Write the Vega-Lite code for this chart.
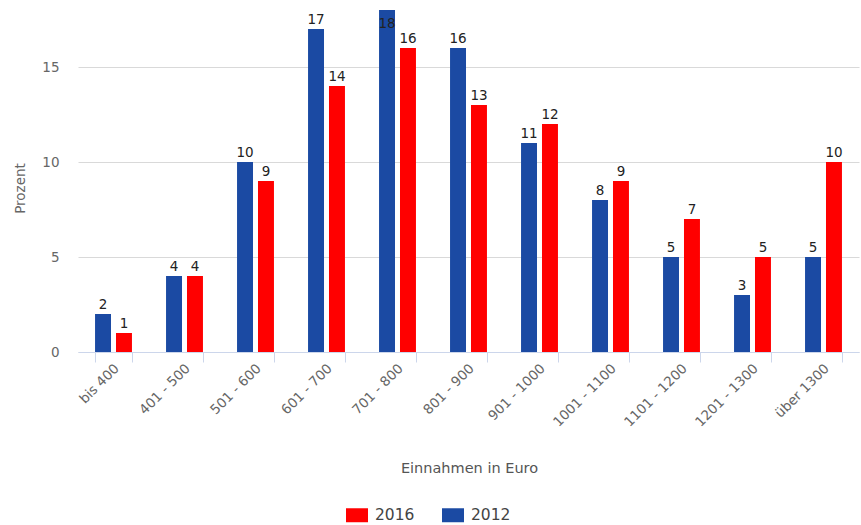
{
  "$schema": "https://vega.github.io/schema/vega-lite/v6.json",
  "width": 781,
  "height": 342,
  "autosize": {"type": "none"},
  "padding": {"left": 78, "top": 10, "right": 2, "bottom": 173},
  "background": "white",
  "config": {
    "font": "DejaVu Sans",
    "view": {"stroke": null},
    "axis": {"labelFont": "DejaVu Sans", "titleFont": "DejaVu Sans", "titleFontWeight": "normal"}
  },
  "data": {
    "values": [
      {"kat": "bis 400", "jahr": "2012", "prozent": 2},
      {"kat": "bis 400", "jahr": "2016", "prozent": 1},
      {"kat": "401 - 500", "jahr": "2012", "prozent": 4},
      {"kat": "401 - 500", "jahr": "2016", "prozent": 4},
      {"kat": "501 - 600", "jahr": "2012", "prozent": 10},
      {"kat": "501 - 600", "jahr": "2016", "prozent": 9},
      {"kat": "601 - 700", "jahr": "2012", "prozent": 17},
      {"kat": "601 - 700", "jahr": "2016", "prozent": 14},
      {"kat": "701 - 800", "jahr": "2012", "prozent": 18},
      {"kat": "701 - 800", "jahr": "2016", "prozent": 16},
      {"kat": "801 - 900", "jahr": "2012", "prozent": 16},
      {"kat": "801 - 900", "jahr": "2016", "prozent": 13},
      {"kat": "901 - 1000", "jahr": "2012", "prozent": 11},
      {"kat": "901 - 1000", "jahr": "2016", "prozent": 12},
      {"kat": "1001 - 1100", "jahr": "2012", "prozent": 8},
      {"kat": "1001 - 1100", "jahr": "2016", "prozent": 9},
      {"kat": "1101 - 1200", "jahr": "2012", "prozent": 5},
      {"kat": "1101 - 1200", "jahr": "2016", "prozent": 7},
      {"kat": "1201 - 1300", "jahr": "2012", "prozent": 3},
      {"kat": "1201 - 1300", "jahr": "2016", "prozent": 5},
      {"kat": "über 1300", "jahr": "2012", "prozent": 5},
      {"kat": "über 1300", "jahr": "2016", "prozent": 10}
    ]
  },
  "encoding": {
    "x": {
      "field": "kat",
      "type": "nominal",
      "sort": null,
      "scale": {"paddingInner": 0.48, "paddingOuter": 0.24},
      "axis": {
        "title": "Einnahmen in Euro",
        "titleFontSize": 14.5,
        "titleColor": "#555555",
        "titleX": 391,
        "titleY": 116,
        "titleAlign": "center",
        "titleBaseline": "middle",
        "labelAngle": -45,
        "labelAlign": "right",
        "labelBaseline": "middle",
        "labelFontSize": 13.5,
        "labelColor": "#666666",
        "labelPadding": 4,
        "labelOffset": 3,
        "tickBand": "extent",
        "tickSize": 10,
        "tickColor": "#ccd6eb",
        "domainColor": "#ccd6eb",
        "grid": false
      }
    },
    "xOffset": {
      "field": "jahr",
      "type": "nominal",
      "sort": ["2012", "2016"],
      "scale": {"paddingInner": 0.238, "paddingOuter": 0}
    },
    "y": {
      "field": "prozent",
      "type": "quantitative",
      "scale": {"domain": [0, 18], "nice": false},
      "axis": {
        "title": "Prozent",
        "titleFontSize": 13.5,
        "titleColor": "#666666",
        "titleAngle": -90,
        "titleX": -58,
        "titleY": 178,
        "titleAlign": "center",
        "titleBaseline": "middle",
        "values": [0, 5, 10, 15],
        "labelFontSize": 13.5,
        "labelColor": "#666666",
        "labelPadding": 19,
        "domain": false,
        "ticks": false,
        "grid": true,
        "gridColor": "#d9d9d9"
      }
    }
  },
  "layer": [
    {
      "mark": {"type": "bar"},
      "encoding": {
        "color": {
          "field": "jahr",
          "type": "nominal",
          "scale": {"domain": ["2016", "2012"], "range": ["#ff0000", "#1b4aa3"]},
          "legend": {
            "title": null,
            "orient": "none",
            "direction": "horizontal",
            "legendX": 268,
            "legendY": 494,
            "padding": 0,
            "symbolType": "M-1,-0.636L1,-0.636L1,0.636L-1,0.636Z",
            "symbolSize": 484,
            "symbolStrokeWidth": 0,
            "labelFont": "DejaVu Sans",
            "labelFontSize": 15.5,
            "labelColor": "#444444",
            "labelOffset": 7,
            "columnPadding": 27
          }
        }
      }
    },
    {
      "transform": [{"filter": "datum.prozent < 18"}],
      "mark": {"type": "text", "baseline": "alphabetic", "dy": -5, "fontSize": 13.5, "color": "#222222"},
      "encoding": {"text": {"field": "prozent", "type": "quantitative"}}
    },
    {
      "transform": [{"filter": "datum.prozent >= 18"}],
      "mark": {"type": "text", "baseline": "top", "dy": 7, "fontSize": 13.5, "color": "#222222"},
      "encoding": {"text": {"field": "prozent", "type": "quantitative"}}
    }
  ]
}
